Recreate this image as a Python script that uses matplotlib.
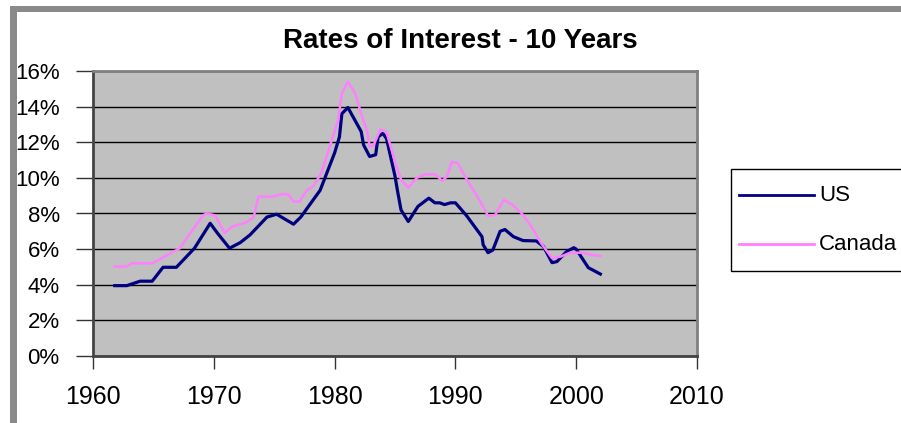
import matplotlib
matplotlib.use("Agg")
import matplotlib.pyplot as plt
from matplotlib.patches import Rectangle
from matplotlib.lines import Line2D

plt.rcParams['font.family'] = ['Liberation Sans', 'DejaVu Sans']

# values (year, percent)
us_years = [1961.8, 1962.8, 1963.9, 1964.9, 1965.8, 1966.9, 1968.4, 1969.7, 1970.3, 1971.3,
            1972.2, 1973.0, 1974.4, 1975.2, 1976.6, 1977.2, 1978.8, 1980.0, 1980.4, 1980.6,
            1981.1, 1982.2, 1982.4, 1982.9, 1983.4, 1983.6, 1984.0, 1984.3, 1985.0, 1985.2,
            1985.5, 1986.1, 1986.9, 1987.8, 1988.3, 1988.7, 1989.1, 1989.6, 1990.0, 1990.9,
            1992.2, 1992.3, 1992.7, 1993.1, 1993.7, 1994.1, 1994.8, 1995.6, 1996.7, 1997.3,
            1998.0, 1998.4, 1999.2, 1999.8, 2000.0, 2001.0, 2002.0]
us_rates = [3.95, 3.95, 4.2, 4.2, 4.98, 4.98, 6.05, 7.45, 6.9, 6.05,
            6.37, 6.8, 7.8, 7.96, 7.4, 7.8, 9.3, 11.4, 12.3, 13.6,
            13.95, 12.6, 11.85, 11.2, 11.3, 12.3, 12.5, 12.2, 10.1, 9.3,
            8.2, 7.55, 8.4, 8.86, 8.6, 8.6, 8.5, 8.6, 8.6, 7.9,
            6.7, 6.24, 5.8, 5.95, 7.0, 7.1, 6.7, 6.48, 6.46, 6.14,
            5.24, 5.3, 5.86, 6.08, 6.0, 4.96, 4.6]

ca_years = [1961.8, 1962.8, 1963.2, 1964.9, 1966.5, 1967.2, 1967.9, 1969.1, 1969.4, 1970.1,
            1970.9, 1971.5, 1972.7, 1973.3, 1973.7, 1974.9, 1975.7, 1976.2, 1976.6, 1977.1,
            1977.7, 1978.2, 1978.9, 1979.6, 1980.3, 1980.6, 1981.1, 1981.7, 1982.2, 1982.7,
            1982.9, 1983.2, 1983.8, 1984.3, 1985.0, 1985.5, 1986.1, 1986.8, 1987.5, 1988.2,
            1988.4, 1988.9, 1989.3, 1989.7, 1990.2, 1990.8, 1991.9, 1992.7, 1993.3, 1994.0,
            1994.7, 1995.5, 1996.3, 1997.1, 1998.0, 1998.7, 1999.5, 2000.5, 2001.3, 2002.0]
ca_rates = [5.02, 5.02, 5.2, 5.2, 5.8, 6.05, 6.74, 7.9, 8.0, 7.9,
            6.9, 7.26, 7.5, 7.8, 8.95, 8.95, 9.1, 9.05, 8.67, 8.67,
            9.3, 9.5, 10.26, 11.76, 13.26, 14.76, 15.4, 14.76, 13.6, 12.6,
            11.76, 11.8, 12.73, 12.55, 10.9, 9.9, 9.45, 10.0, 10.2, 10.2,
            10.17, 9.83, 10.07, 10.9, 10.82, 10.07, 8.86, 7.87, 7.92, 8.76,
            8.5, 8.0, 7.26, 6.33, 5.49, 5.58, 5.8, 5.8, 5.67, 5.62]

series_names = ['US', 'Canada']
series_colors = ['#000080', '#ff80ff']

x_ticks = [1960, 1970, 1980, 1990, 2000, 2010]
y_ticks = [0, 2, 4, 6, 8, 10, 12, 14, 16]

W, H = 901, 423
fig = plt.figure(figsize=(W / 100, H / 100), dpi=100)

# grey frame on the top and left edges
fig.patches.append(Rectangle((10 / W, 0), 6.5 / W, 1 - 6 / H, transform=fig.transFigure,
                             facecolor='#8a8a8a', edgecolor='none'))
fig.patches.append(Rectangle((10 / W, 1 - 12 / H), 1, 6 / H, transform=fig.transFigure,
                             facecolor='#8a8a8a', edgecolor='none'))

ax = fig.add_axes([93 / W, (H - 356) / H, 604 / W, 285 / H])
ax.set_facecolor('#c0c0c0')

ax.plot(us_years, us_rates, color=series_colors[0], lw=2.3, solid_joinstyle='round')
ax.plot(ca_years, ca_rates, color=series_colors[1], lw=1.8)

ax.set_xlim(1960, 2010)
ax.set_ylim(0, 16)
ax.set_xticks(x_ticks)
ax.set_xticklabels([str(v) for v in x_ticks], fontsize=18)
ax.set_yticks(y_ticks)
ax.set_yticklabels([f"{v}%" for v in y_ticks], fontsize=16)
ax.tick_params(axis='y', length=12, width=1, color='#333333', pad=12)
ax.tick_params(axis='x', length=9, width=1, color='#333333', pad=12)

ax.grid(axis='y', color='black', lw=1)
ax.set_axisbelow(True)
for side in ['left', 'bottom']:
    ax.spines[side].set_color('#444444')
    ax.spines[side].set_linewidth(2)
for side in ['top', 'right']:
    ax.spines[side].set_color('#808080')
    ax.spines[side].set_linewidth(2)

fig.text(460 / W, 1 - 48 / H, "Rates of Interest - 10 Years", ha='center', va='baseline',
         fontsize=20, fontweight='bold')

# legend box, drawn by hand so it can run off the right edge like the original
fig.patches.append(Rectangle((731 / W, 1 - 271 / H), 200 / W, 102 / H, transform=fig.transFigure,
                             facecolor='white', edgecolor='black', lw=1))
for i, (name, col) in enumerate(zip(series_names, series_colors)):
    yy = 1 - (195 + 49 * i) / H
    fig.add_artist(Line2D([739 / W, 814 / W], [yy, yy], color=col, lw=2,
                          transform=fig.transFigure))
    fig.text(819 / W, yy, name, ha='left', va='center', fontsize=16)

fig.savefig("out.png", dpi=100)
